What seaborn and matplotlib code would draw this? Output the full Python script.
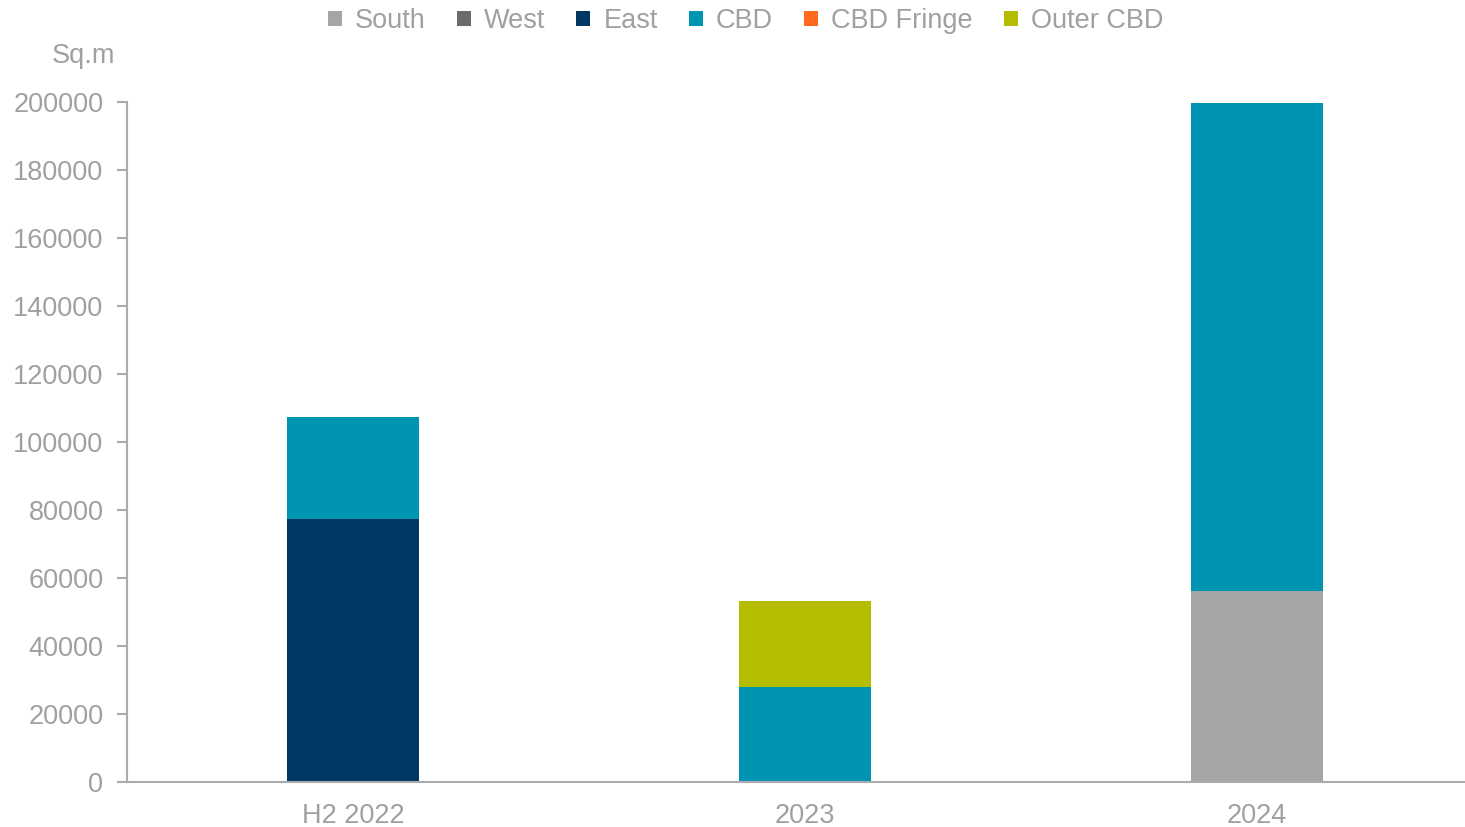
import numpy as np
import pandas as pd
import matplotlib
matplotlib.use("Agg")
import matplotlib.pyplot as plt
from matplotlib.patches import Patch
import seaborn as sns

# Office supply by submarket (sq.m)
periods = ["H2 2022", "2023", "2024"]
series = ["South", "West", "East", "CBD", "CBD Fringe", "Outer CBD"]
south = [0, 0, 56200]
west = [0, 0, 0]
east = [77300, 0, 0]
cbd = [30000, 28000, 143400]
cbd_fringe = [0, 0, 0]
outer_cbd = [0, 25200, 0]
colors = ["#A5A5A5", "#6B6B6B", "#003763", "#0094B3", "#FF6A1F", "#B5BD00"]

sns.set_theme(style="white")
plt.rcParams["font.family"] = ["Liberation Sans", "DejaVu Sans"]
text_color = "#A0A0A0"
axis_color = "#ABABAB"
fs = 19.5

values = np.array([south, west, east, cbd, cbd_fringe, outer_cbd], dtype=float)
cumulative = np.cumsum(values, axis=0)

fig = plt.figure(figsize=(14.65, 8.27), dpi=100)
ax = fig.add_axes([127 / 1465, 45 / 827, 1356 / 1465, 680 / 827])

# Stack by overdrawing cumulative totals from the top segment down
for i in range(len(series) - 1, -1, -1):
    df = pd.DataFrame({"period": periods, "value": cumulative[i]})
    sns.barplot(data=df, x="period", y="value", order=periods, color=colors[i],
                saturation=1, width=0.294, linewidth=0, ax=ax)

ax.set_xlim(-0.5, 2.5)
ax.set_ylim(0, 200000)
ax.set_yticks(np.arange(0, 200001, 20000))
ax.set_yticklabels([f"{v:d}" for v in range(0, 200001, 20000)])
ax.set_xlabel("")
ax.set_ylabel("")

for side in ["top", "right"]:
    ax.spines[side].set_visible(False)
for side in ["left", "bottom"]:
    ax.spines[side].set_color(axis_color)
    ax.spines[side].set_linewidth(1.5)

ax.tick_params(axis="y", which="major", direction="out", length=7, width=1.5,
               color=axis_color, labelcolor=text_color, labelsize=fs, pad=10, left=True)
ax.tick_params(axis="x", length=0, labelcolor=text_color, labelsize=fs, pad=15)

fig.text(52 / 1465, 1 - 56 / 827, "Sq.m", color=text_color, fontsize=fs,
         ha="left", va="center")

handles = [Patch(facecolor=c, edgecolor="none", label=s) for s, c in zip(series, colors)]
leg = fig.legend(handles=handles, loc="center", bbox_to_anchor=(0.509, 1 - 21 / 827),
                 ncol=6, frameon=False, fontsize=fs, handlelength=0.52, handleheight=0.52,
                 handletextpad=0.48, columnspacing=1.15, borderaxespad=0)
for t in leg.get_texts():
    t.set_color(text_color)

fig.savefig("out.png", dpi=100)
